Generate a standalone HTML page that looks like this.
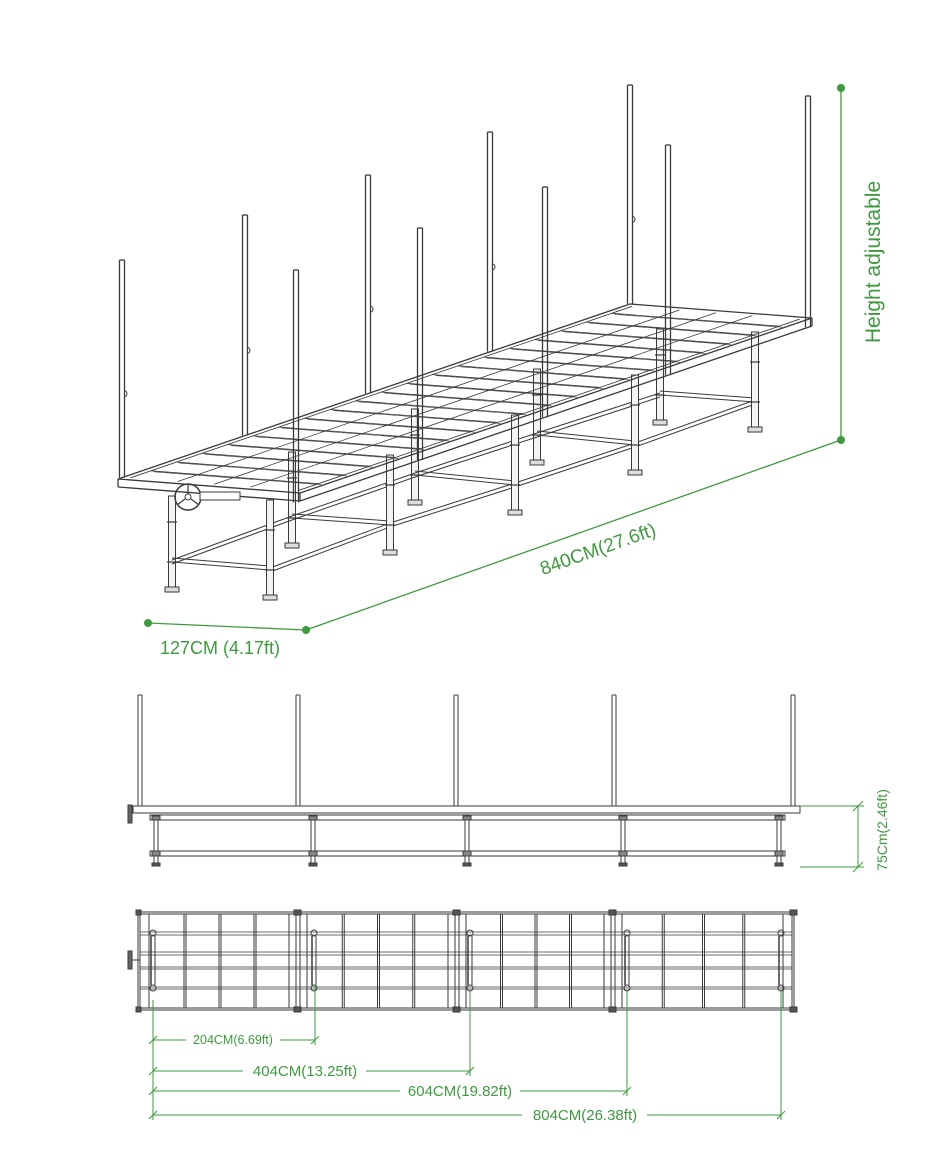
<!DOCTYPE html>
<html><head><meta charset="utf-8">
<style>
html,body{margin:0;padding:0;background:#fff;}
svg{display:block;}
.g{font-family:"Liberation Sans",sans-serif;fill:#3e9a3e;}
</style></head>
<body>
<svg id="s" width="945" height="1175" viewBox="0 0 945 1175" xmlns="http://www.w3.org/2000/svg">
<g id="draw" stroke="#3a3a3a" stroke-width="1" fill="none"></g>
<g stroke="#3e9a3e" stroke-width="1.3" fill="none">
  <line x1="841" y1="88" x2="841" y2="440"/>
  <line x1="306" y1="630" x2="841" y2="440"/>
  <line x1="148" y1="623" x2="306" y2="630"/>
</g>
<g fill="#3e9a3e">
  <circle cx="841" cy="88" r="4"/><circle cx="841" cy="440" r="4"/>
  <circle cx="306" cy="630" r="4"/><circle cx="148" cy="623" r="4"/>
</g>
<text class="g" font-size="21" transform="translate(880,262) rotate(-90)" text-anchor="middle">Height adjustable</text>
<text class="g" font-size="19" transform="translate(600,555) rotate(-19.5)" text-anchor="middle">840CM(27.6ft)</text>
<text class="g" font-size="18" x="160" y="654">127CM (4.17ft)</text>
<g stroke="#3e9a3e" stroke-width="1" fill="none">
  <line x1="800" y1="806" x2="864" y2="806"/>
  <line x1="800" y1="867" x2="864" y2="867"/>
  <line x1="858" y1="806" x2="858" y2="867"/>
  <line x1="853" y1="811" x2="863" y2="801"/>
  <line x1="853" y1="872" x2="863" y2="862"/>
</g>
<text class="g" font-size="14" transform="translate(887,830) rotate(-90)" text-anchor="middle">75Cm(2.46ft)</text>
<g stroke="#3e9a3e" stroke-width="1" fill="none">
  <line x1="153" y1="1000" x2="153" y2="1120"/>
  <line x1="315" y1="985" x2="315" y2="1045"/>
  <line x1="470" y1="990" x2="470" y2="1076"/>
  <line x1="627" y1="990" x2="627" y2="1096"/>
  <line x1="781" y1="990" x2="781" y2="1120"/>
  <line x1="153" y1="1040" x2="186" y2="1040"/><line x1="280" y1="1040" x2="315" y2="1040"/>
  <line x1="153" y1="1071" x2="243" y2="1071"/><line x1="366" y1="1071" x2="470" y2="1071"/>
  <line x1="153" y1="1091" x2="400" y2="1091"/><line x1="520" y1="1091" x2="627" y2="1091"/>
  <line x1="153" y1="1115" x2="522" y2="1115"/><line x1="647" y1="1115" x2="781" y2="1115"/>
  <line x1="149" y1="1044" x2="157" y2="1036"/><line x1="311" y1="1044" x2="319" y2="1036"/>
  <line x1="149" y1="1075" x2="157" y2="1067"/><line x1="466" y1="1075" x2="474" y2="1067"/>
  <line x1="149" y1="1095" x2="157" y2="1087"/><line x1="623" y1="1095" x2="631" y2="1087"/>
  <line x1="149" y1="1119" x2="157" y2="1111"/><line x1="777" y1="1119" x2="785" y2="1111"/>
</g>
<text class="g" font-size="12.5" x="233" y="1044" text-anchor="middle">204CM(6.69ft)</text>
<text class="g" font-size="15" x="305" y="1076" text-anchor="middle">404CM(13.25ft)</text>
<text class="g" font-size="15" x="460" y="1096" text-anchor="middle">604CM(19.82ft)</text>
<text class="g" font-size="15" x="585" y="1120" text-anchor="middle">804CM(26.38ft)</text>
</svg>
<script>
var g=document.getElementById('draw');var NS='http://www.w3.org/2000/svg';
function L(a,b,c,d,w,col){var e=document.createElementNS(NS,'line');e.setAttribute('x1',a);e.setAttribute('y1',b);e.setAttribute('x2',c);e.setAttribute('y2',d);if(w)e.setAttribute('stroke-width',w);if(col)e.setAttribute('stroke',col);g.appendChild(e);}
function R(x,y,w,h,f){var e=document.createElementNS(NS,'rect');e.setAttribute('x',x);e.setAttribute('y',y);e.setAttribute('width',w);e.setAttribute('height',h);if(f)e.setAttribute('fill',f);g.appendChild(e);}
function C(x,y,r,w){var e=document.createElementNS(NS,'circle');e.setAttribute('cx',x);e.setAttribute('cy',y);e.setAttribute('r',r);if(w)e.setAttribute('stroke-width',w);g.appendChild(e);}
var B=[118,479],Lv=[512,-175],W=[182,14];
function P(t,s){return [B[0]+t*Lv[0]+s*W[0],B[1]+t*Lv[1]+s*W[1]];}
function LP(p,q,w){L(p[0],p[1],q[0],q[1],w);}
var fl=[[270,600],[390,555],[515,515],[635,475],[755,432]],bl=[[172,592],[292,548],[415,505],[537,465],[660,425]];
function leg(x,b,len){R(x-3.5,b-len,7,len-4,'#f4f4f4');L(x-5,b-30,x+5,b-30,1.2);L(x-5,b-70,x+5,b-70,1.2);R(x-7,b-5,14,5,'#ddd');}
bl.forEach(function(p){leg(p[0],p[1],96);});
for(var i=0;i<4;i++){var a=bl[i],b=bl[i+1],c=fl[i],e=fl[i+1];
L(a[0],a[1]-28,b[0],b[1]-28,1);L(a[0],a[1]-32,b[0],b[1]-32,1);
L(c[0],c[1]-28,e[0],e[1]-28,1);L(c[0],c[1]-32,e[0],e[1]-32,1);}
for(var i=0;i<5;i++){L(bl[i][0],bl[i][1]-30,fl[i][0],fl[i][1]-30,1);L(bl[i][0],bl[i][1]-34,fl[i][0],fl[i][1]-34,1);}
fl.forEach(function(p){leg(p[0],p[1],100);});
LP(P(0,0),P(1,0),1.3);LP(P(0,1),P(1,1),1.3);LP(P(0,0),P(0,1),1.3);LP(P(1,0),P(1,1),1.3);
var d=8;
function Pd(t,s){var p=P(t,s);return [p[0],p[1]+d];}
LP(Pd(0,1),Pd(1,1),1.3);LP(Pd(0,0),Pd(0,1),1.3);L(118,479,118,487,1.3);
var p01=P(0,1);L(p01[0],p01[1],p01[0],p01[1]+d,1.3);var p11=P(1,1);L(p11[0],p11[1],p11[0],p11[1]+d,1.3);
for(var i=1;i<20;i++){var t=i/20;LP(P(t,0.04),P(t,0.96),0.8);LP([P(t,0.04)[0]+3,P(t,0.04)[1]+1],[P(t,0.96)[0]+3,P(t,0.96)[1]+1],0.6);}
[0.04,0.3,0.5,0.7,0.96].forEach(function(s){LP(P(0.01,s),P(0.99,s),0.8);});
var back=[[122,260],[245,215],[368,175],[490,132],[630,85]],front=[[296,270],[420,228],[545,187],[668,145],[808,96]];
function post(x,top,base){L(x-2.5,top,x-2.5,base,1.3);L(x+2.5,top,x+2.5,base,1.3);L(x-2.5,top,x+2.5,top,1.3);}
back.forEach(function(p){var y=479-0.342*(p[0]-118);post(p[0],p[1],y);var e=document.createElementNS(NS,'path');e.setAttribute('d','M'+(p[0]+2)+' '+(p[1]+(y-p[1])*0.6)+' c4 0 4 6 0 6');g.appendChild(e);});
front.forEach(function(p){var y=493-0.342*(p[0]-300);post(p[0],p[1],y+d);});
C(188,497,13,1.5);C(188,497,3,1);L(188,494,188,484,1.2);L(185,499,177,505,1.2);L(191,499,199,505,1.2);
R(200,492,40,8,'#fff');
[140,298,456,614,793].forEach(function(x){L(x-2,695,x-2,806);L(x+2,695,x+2,806);L(x-2,695,x+2,695);});
R(133,806,667,7,'#fff');L(133,813,800,813);
R(150,815,635,5,'#fff');R(150,851,635,5,'#fff');
[156,313,467,623,779].forEach(function(x){L(x-2,815,x-2,863);L(x+2,815,x+2,863);R(x-4,863,8,3,'#555');R(x-4,816,8,4,'#888');R(x-4,851,8,5,'#888');});
R(128,805,4,18,'#666');
R(138,912,656,98);R(140,914,652,94);
[298,457,613].forEach(function(x){L(x-2,912,x-2,1010);L(x+2,912,x+2,1010);});
var mods=[[140,298],[298,457],[457,613],[613,792]];
mods.forEach(function(m){var w=(m[1]-m[0]);for(var k=1;k<4;k++){var x=m[0]+9+k*(w-18)/4;L(x,914,x,1008);L(x+2,914,x+2,1008);}
L(m[0]+9,914,m[0]+9,1008);L(m[1]-9,914,m[1]-9,1008);});
[932,935,952,955,967,969,987,989].forEach(function(y){L(140,y,792,y,0.8);});
[153,314,470,627,781].forEach(function(x){C(x,933,3,1);C(x,988,3,1);L(x-2,936,x-2,985,1.5);L(x+2,936,x+2,985,1);});
L(130,960,140,960);R(128,951,4,18,'#666');
for(var i=0;i<4;i++){var x=[298,457,613,794][i];R(x-4,910,7,5,'#555');R(x-4,1007,7,5,'#555');}
R(136,910,5,5,'#555');R(136,1007,5,5,'#555');
</script>
</body></html>
